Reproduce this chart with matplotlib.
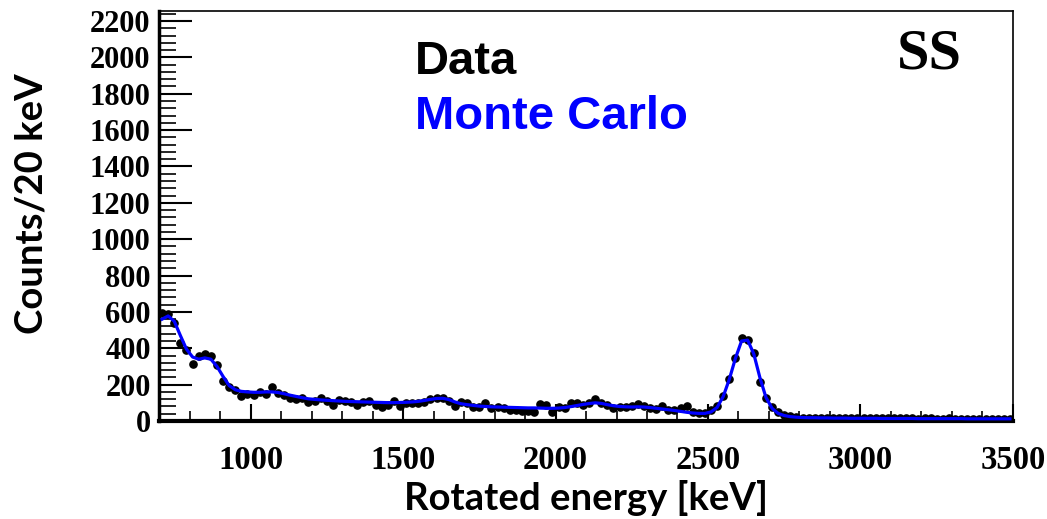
import numpy as np
from matplotlib import pyplot as plt
from matplotlib.ticker import MultipleLocator

# 20 keV bins from 700 to 3500 keV, values are counts per bin
binLow = 700
binWidth = 20

dataCounts = [595, 590, 540, 427, 390, 313, 357, 368, 355, 307,
              221, 188, 170, 139, 148, 143, 161, 148, 185, 152,
              143, 128, 120, 128, 104, 110, 128, 112, 88, 115,
              112, 103, 88, 106, 112, 88, 79, 88, 112, 82,
              100, 98, 100, 103, 119, 124, 124, 112, 82, 106,
              100, 79, 79, 97, 70, 79, 70, 60, 60, 57,
              55, 51, 92, 88, 51, 75, 70, 100, 97, 88,
              97, 119, 97, 88, 70, 79, 79, 82, 93, 82,
              70, 64, 82, 60, 60, 70, 82, 51, 46, 42,
              60, 84, 139, 231, 348, 457, 445, 372, 212, 125,
              79, 48, 33, 25, 20, 19, 18, 18, 17, 17,
              16, 17, 16, 15, 16, 15, 15, 16, 14, 15,
              14, 15, 14, 14, 13, 14, 14, 13, 13, 14,
              13, 12, 13, 13, 12, 13, 12, 12, 13, 12]

mcCounts = [560, 578, 548, 470, 395, 352, 340, 347, 340, 300,
            245, 195, 172, 163, 160, 158, 158, 160, 160, 157,
            150, 142, 135, 128, 122, 119, 116, 114, 112, 110,
            108, 107, 106, 105, 104, 103, 102, 101, 101, 102,
            103, 105, 108, 113, 119, 124, 125, 118, 105, 95,
            90, 86, 82, 80, 78, 77, 76, 75, 74, 73,
            72, 72, 71, 70, 70, 71, 74, 79, 85, 91,
            96, 100, 97, 90, 84, 80, 78, 77, 78, 77,
            74, 70, 66, 62, 58, 53, 48, 44, 42, 42,
            50, 75, 135, 230, 345, 440, 445, 370, 240, 130,
            70, 42, 30, 24, 21, 19, 18, 18, 17, 17,
            16, 16, 16, 15, 15, 15, 15, 15, 14, 14,
            14, 14, 14, 14, 13, 13, 13, 13, 13, 13,
            13, 13, 12, 12, 12, 12, 12, 12, 12, 12]

binCenters = binLow + binWidth / 2 + binWidth * np.arange(len(dataCounts))

fig = plt.figure(figsize=(10.47, 5.19), dpi=100)
ax = fig.add_axes([0.1519, 0.1888, 0.8156, 0.79])

ax.plot(binCenters, dataCounts, "o", color="black", ms=5.2, zorder=2)
ax.plot(binCenters, mcCounts, color="#0000ff", lw=2.3, zorder=3)

ax.set_xlim(700, 3500)
ax.set_ylim(0, 2255)

ax.xaxis.set_major_locator(MultipleLocator(500))
ax.xaxis.set_minor_locator(MultipleLocator(100))
ax.yaxis.set_major_locator(MultipleLocator(200))
ax.yaxis.set_minor_locator(MultipleLocator(40))

ax.tick_params(axis="x", which="major", direction="in", length=12, width=1.5, pad=17)
ax.tick_params(axis="x", which="minor", direction="in", length=7, width=1.2)
ax.tick_params(axis="y", which="major", direction="in", length=24, width=1.5, pad=6)
ax.tick_params(axis="y", which="minor", direction="in", length=12, width=1.2)

ax.spines["bottom"].set_linewidth(3)
ax.spines["left"].set_linewidth(2.5)
ax.spines["top"].set_linewidth(1.2)
ax.spines["right"].set_linewidth(1.2)

for lab in ax.get_xticklabels():
    lab.set_family("Liberation Serif")
    lab.set_weight("bold")
    lab.set_size(23.5)
for lab in ax.get_yticklabels():
    lab.set_family("Liberation Serif")
    lab.set_weight("bold")
    lab.set_size(22)

ax.set_xlabel("Rotated energy [keV]", family="Lato", weight="bold", fontsize=27.5)
ax.xaxis.set_label_coords(0.5, -0.143)
ax.set_ylabel("Counts/20 keV", family="Lato", weight="bold", fontsize=27.5)
ax.yaxis.set_label_coords(-0.130, 0.53)

ax.text(0.2998, 0.876, "Data", transform=ax.transAxes, family="Liberation Sans",
        weight="bold", fontsize=34, color="black", va="center")
ax.text(0.2998, 0.741, "Monte Carlo", transform=ax.transAxes, family="Liberation Sans",
        weight="bold", fontsize=34, color="#0000ff", va="center")
ax.text(0.940, 0.893, "SS", transform=ax.transAxes, family="Liberation Serif",
        weight="bold", fontsize=42, color="black", va="center", ha="right")

plt.savefig("out.png", dpi=100)
